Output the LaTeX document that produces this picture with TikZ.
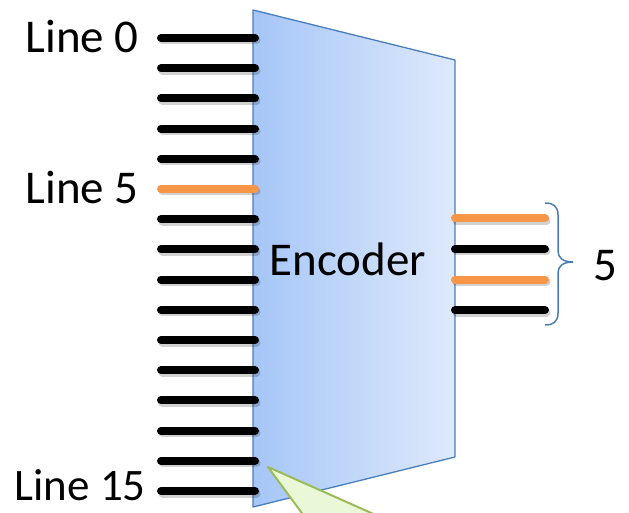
\documentclass[tikz,border=0pt]{standalone}
\usepackage{fontspec}
\setmainfont{Carlito}
\definecolor{orng}{HTML}{F79646}
\definecolor{edgeblue}{HTML}{4A7EBB}
\definecolor{encL}{HTML}{A6C6F7}
\definecolor{encR}{HTML}{DEE9FB}
\definecolor{calloutfill}{HTML}{EBF8D8}
\definecolor{calloutedge}{HTML}{9BBB59}
\begin{document}
\begin{tikzpicture}[x=1pt,y=-1pt,
  wire/.style={line width=8pt,line cap=round},
  wshadow/.style={line width=8pt,line cap=round,draw=black,opacity=0.18},
  lbl/.style={font=\fontsize{47}{47}\selectfont,inner sep=0pt,text depth=0pt},
  bracestyle/.style={draw=edgeblue,line width=1.5pt}]
\useasboundingbox (0,0) rectangle (629,513);
\clip (0,0) rectangle (629,513);
% encoder trapezoid
\coordinate (tl) at (253,10);
\coordinate (tr) at (455,60);
\coordinate (br) at (455,457);
\coordinate (bl) at (253,507);
\shade[left color=encL,right color=encR] (tl) -- (tr) -- (br) -- (bl) -- cycle;
\draw[edgeblue,line width=1.3pt,line join=round] (tl) -- (tr) -- (br) -- (bl) -- cycle;
% input lines
\foreach \i in {0,...,15}{
  \pgfmathsetmacro{\yy}{38+\i*30.2}
  \coordinate (a\i) at (161,\yy);
  \coordinate (b\i) at (255,\yy);
  \draw[wshadow] ([shift={(1.5,2.5)}]a\i) -- ([shift={(1.5,2.5)}]b\i);
}
\foreach \i in {0,...,15}{
  \ifnum\i=5
    \draw[wire,orng] (a\i) -- (b\i);
  \else
    \draw[wire,black] (a\i) -- (b\i);
  \fi
}
% output lines
\foreach \i/\c in {0/orng,1/black,2/orng,3/black}{
  \pgfmathsetmacro{\yy}{218.3+\i*30.6}
  \coordinate (c\i) at (455,\yy);
  \coordinate (d\i) at (545,\yy);
  \draw[wshadow] ([shift={(1.5,2.5)}]c\i) -- ([shift={(1.5,2.5)}]d\i);
  \draw[wire,\c] (c\i) -- (d\i);
}
% callout
\coordinate (ctip) at (268,467);
\filldraw[fill=calloutfill,draw=calloutedge,line width=2pt,line join=round]
  (307,520) -- (ctip) -- (387,520);
% labels
\node[lbl,anchor=base east] (l0) at (139,53) {Line 0};
\node[lbl,anchor=base east] (l5) at (139,204) {Line 5};
\node[lbl,anchor=base east,font=\fontsize{45}{45}\selectfont] (l15) at (146,500) {Line 15};
\node[lbl,anchor=base] (enc) at (348,275) {Encoder};
\node[lbl,anchor=base] (five) at (605,280) {5};
% brace
\draw[bracestyle] (545,203) .. controls (553,203) and (558,206) .. (558,215)
  -- (558,251) .. controls (558,258) and (563,262) .. (573,262)
  .. controls (563,262) and (558,266) .. (558,273)
  -- (558,313) .. controls (558,322) and (553,325) .. (545,325);
\end{tikzpicture}
\end{document}
